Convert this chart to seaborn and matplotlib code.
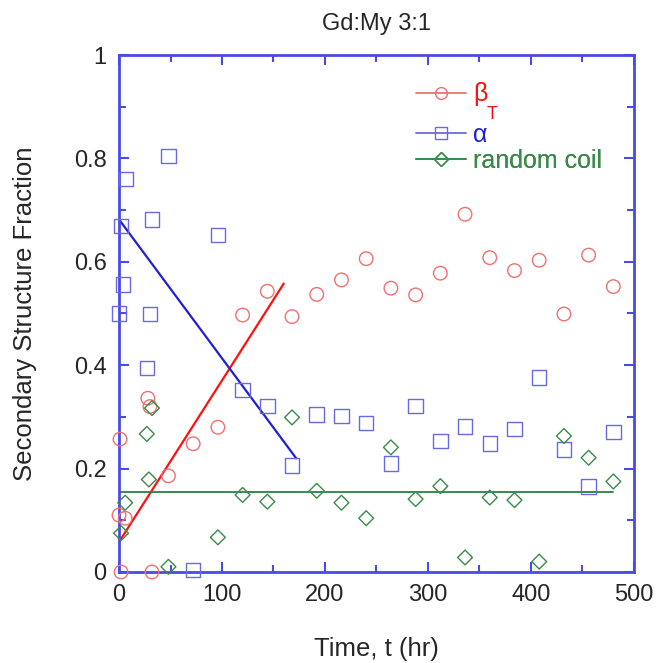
import numpy as np
import pandas as pd
import seaborn as sns
import matplotlib.pyplot as plt
from matplotlib.lines import Line2D
from matplotlib.ticker import MultipleLocator

# data
beta_t = [1, 0, 6, 2, 28, 30, 32, 48, 72, 96, 120, 144, 168, 192, 216, 240, 264,
          288, 312, 336, 360, 384, 408, 432, 456, 480]
beta_y = [0.257, 0.110, 0.104, 0.0, 0.336, 0.320, 0.0, 0.186, 0.248, 0.280, 0.497,
          0.543, 0.494, 0.537, 0.565, 0.606, 0.549, 0.536, 0.578, 0.692, 0.608,
          0.583, 0.603, 0.499, 0.613, 0.552]

alpha_t = [7, 48, 2, 32, 96, 4, 0, 30, 27, 72, 120, 144, 168, 192, 216, 240, 264,
           288, 312, 336, 360, 384, 408, 432, 456, 480]
alpha_y = [0.760, 0.805, 0.669, 0.682, 0.652, 0.556, 0.500, 0.499, 0.395, 0.004,
           0.352, 0.321, 0.206, 0.305, 0.302, 0.288, 0.210, 0.321, 0.253, 0.281,
           0.249, 0.277, 0.376, 0.237, 0.165, 0.271]

coil_t = [2, 6, 27, 32, 29, 48, 96, 120, 144, 168, 192, 216, 240, 264, 288, 312,
          336, 360, 384, 408, 432, 456, 480]
coil_y = [0.075, 0.134, 0.267, 0.317, 0.179, 0.010, 0.067, 0.149, 0.136, 0.299,
          0.157, 0.134, 0.104, 0.241, 0.141, 0.166, 0.028, 0.144, 0.139, 0.020,
          0.263, 0.221, 0.175]

# fitted lines (end points)
beta_fit_t = [0, 160]
beta_fit_y = [0.058, 0.558]
alpha_fit_t = [0, 172]
alpha_fit_y = [0.682, 0.220]
coil_fit_t = [0, 480]
coil_fit_y = [0.155, 0.155]

red_pt, red_ln = "#f07070", "#ff1010"
blue_pt, blue_ln = "#6a6ae0", "#2020d0"
green_pt, green_ln = "#3a8a4a", "#2a8040"
axis_blue = "#4a4ae8"

sns.set_style("ticks")
plt.rcParams["font.family"] = ["Liberation Sans", "DejaVu Sans"]

fig = plt.figure(figsize=(6.59, 6.63), dpi=100)
ax = fig.add_axes([0.1806, 0.1373, 0.7814, 0.7797])

ms = 95
sns.scatterplot(x=beta_t, y=beta_y, marker="o", s=ms, facecolor="none",
                edgecolor=red_pt, linewidth=1.0, ax=ax, clip_on=False, zorder=3)
sns.scatterplot(x=alpha_t, y=alpha_y, marker="s", s=ms * 1.15, facecolor="none",
                edgecolor=blue_pt, linewidth=1.0, ax=ax, clip_on=False, zorder=3)
sns.scatterplot(x=coil_t, y=coil_y, marker="D", s=ms * 0.6, facecolor="none",
                edgecolor=green_pt, linewidth=1.0, ax=ax, clip_on=False, zorder=3)

sns.lineplot(x=beta_fit_t, y=beta_fit_y, color=red_ln, linewidth=1.6, ax=ax)
sns.lineplot(x=alpha_fit_t, y=alpha_fit_y, color=blue_ln, linewidth=1.6, ax=ax)
sns.lineplot(x=coil_fit_t, y=coil_fit_y, color=green_ln, linewidth=1.3, ax=ax)

ax.set_xlim(0, 500)
ax.set_ylim(0, 1)
ax.xaxis.set_major_locator(MultipleLocator(100))
ax.xaxis.set_minor_locator(MultipleLocator(50))
ax.yaxis.set_minor_locator(MultipleLocator(0.1))
ax.set_yticks([0, 0.2, 0.4, 0.6, 0.8, 1.0])
ax.set_yticklabels(["0", "0.2", "0.4", "0.6", "0.8", "1"])

for sp in ax.spines.values():
    sp.set_visible(True)
    sp.set_color(axis_blue)
    sp.set_linewidth(2)
ax.tick_params(which="both", direction="in", top=True, right=True,
               color=axis_blue, width=1.5, labelsize=17, pad=9)
ax.tick_params(which="major", length=7)
ax.tick_params(which="minor", length=5)

ax.set_title("Gd:My 3:1", fontsize=17, pad=18)
ax.set_xlabel("Time, t (hr)", fontsize=18.5, labelpad=22)
ax.set_ylabel("Secondary Structure Fraction", fontsize=18.5)
ax.yaxis.set_label_coords(-0.159, 0.5)

# legend: one row each so the spacing can follow the original
rows = [
    (Line2D([], [], color=red_pt, marker="o", mfc="none", mec=red_pt, ms=8.5, lw=1.3),
     "\u03b2", red_ln, 0.924),
    (Line2D([], [], color=blue_pt, marker="s", mfc="none", mec=blue_pt, ms=9, lw=1.3),
     "\u03b1", blue_ln, 0.845),
    (Line2D([], [], color=green_pt, marker="D", mfc="none", mec=green_pt, ms=7, lw=1.3),
     "random coil", green_pt, 0.795),
]
for h, lab, c, yy in rows:
    leg = ax.legend([h], [lab], loc="center left", bbox_to_anchor=(0.577, yy),
                    frameon=False, fontsize=18, handlelength=2.0, handletextpad=0.28,
                    borderpad=0, borderaxespad=0)
    leg.get_texts()[0].set_color(c)
    ax.add_artist(leg)
ax.text(0.7146, 0.877, "T", transform=ax.transAxes, color=red_ln, fontsize=13,
        va="baseline", ha="left")

fig.savefig("out.png", dpi=100)
